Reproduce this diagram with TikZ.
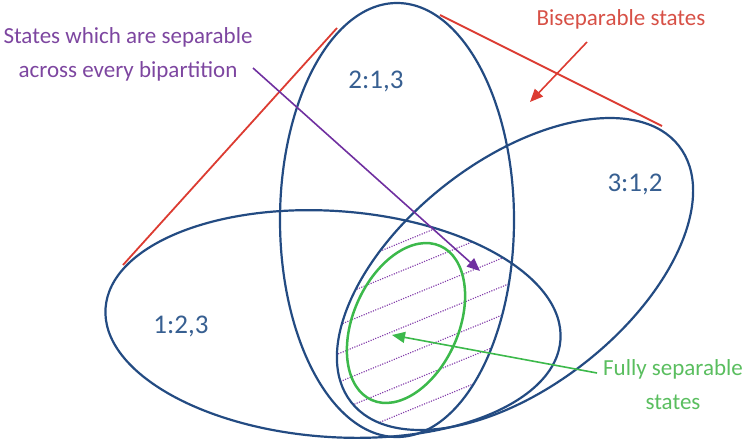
\documentclass[tikz,border=0pt]{standalone}
\usepackage{fontspec}
\setmainfont{Carlito}
\usetikzlibrary{arrows.meta}
\definecolor{navy}{RGB}{35,75,130}
\definecolor{lblue}{RGB}{55,95,145}
\definecolor{redl}{RGB}{220,60,50}
\definecolor{redt}{RGB}{215,80,70}
\definecolor{purt}{RGB}{125,70,160}
\definecolor{pura}{RGB}{112,48,160}
\definecolor{purh}{RGB}{130,60,170}
\definecolor{grn}{RGB}{60,185,75}
\definecolor{grnt}{RGB}{90,190,95}
\begin{document}
\begin{tikzpicture}[x=1pt,y=-1pt,
  ell/.style={draw=navy, line width=2.2pt},
  hull/.style={draw=redl, line width=1.8pt},
  hatchline/.style={draw=purh, line width=1.6pt, dash pattern=on 0.01pt off 2.5pt, line cap=round},
  tip/.style={-{Triangle[length=13pt,width=11pt]}},
  note/.style={inner sep=0pt, font=\fontsize{23}{34}\selectfont, align=center, anchor=base},
  setlab/.style={inner sep=0pt, font=\fontsize{27}{32}\selectfont, text=lblue, anchor=base}]
\useasboundingbox (0,0) rectangle (744,442);
% hatching of the triple intersection
\begin{scope}
  \clip[shift={(333,324)}, rotate=-4] (0,0) ellipse [x radius=228pt, y radius=113pt];
  \clip[shift={(397,220)}] (0,0) ellipse [x radius=117pt, y radius=217pt];
  \clip[shift={(515,274)}, rotate=38] (0,0) ellipse [x radius=208pt, y radius=113pt];
  \foreach \k in {-2,...,8} {
    \draw[hatchline] (320,{275.8+28.5*\k}) -- (540,{185.6+28.5*\k});
  }
\end{scope}
% the three bipartition sets
\draw[ell, shift={(333,324)}, rotate=-4] (0,0) ellipse [x radius=228pt, y radius=113pt];
\draw[ell, shift={(397,220)}] (0,0) ellipse [x radius=117pt, y radius=217pt];
\draw[ell, shift={(515,274)}, rotate=38] (0,0) ellipse [x radius=208pt, y radius=113pt];
% fully separable set
\draw[draw=grn, line width=2.5pt, shift={(406,323)}, rotate=-24] (0,0) ellipse [x radius=52.7pt, y radius=84.3pt];
% convex hull lines
\coordinate (h1a) at (123,265);
\coordinate (h1b) at (337,28);
\coordinate (h2a) at (440,15);
\coordinate (h2b) at (662,126);
\draw[hull] (h1a) -- (h1b);
\draw[hull] (h2a) -- (h2b);
% labels
\node[setlab] (l2) at (376,88) {2:1,3};
\node[setlab] (l3) at (635,191) {3:1,2};
\node[setlab] (l1) at (181,333) {1:2,3};
\node[note, text=redt] (bisep) at (621,25) {Biseparable states};
\node[note, text=purt] (sepall) at (128,77) {States which are separable\\across every bipartition};
\node[note, text=grnt] (fully) at (673,409) {Fully separable\\states};
% arrows
\coordinate (ra1) at (587,42);
\coordinate (ra2) at (530,102);
\coordinate (pa1) at (253,68);
\coordinate (pa2) at (480,271);
\coordinate (ga1) at (597,373);
\coordinate (ga2) at (392,335);
\draw[tip, draw=redl, fill=redl, line width=1.6pt] (ra1) -- (ra2);
\draw[tip, draw=pura, fill=pura, line width=1.6pt] (pa1) -- (pa2);
\draw[tip, draw=grn, fill=grn, line width=1.6pt] (ga1) -- (ga2);
\end{tikzpicture}
\end{document}
